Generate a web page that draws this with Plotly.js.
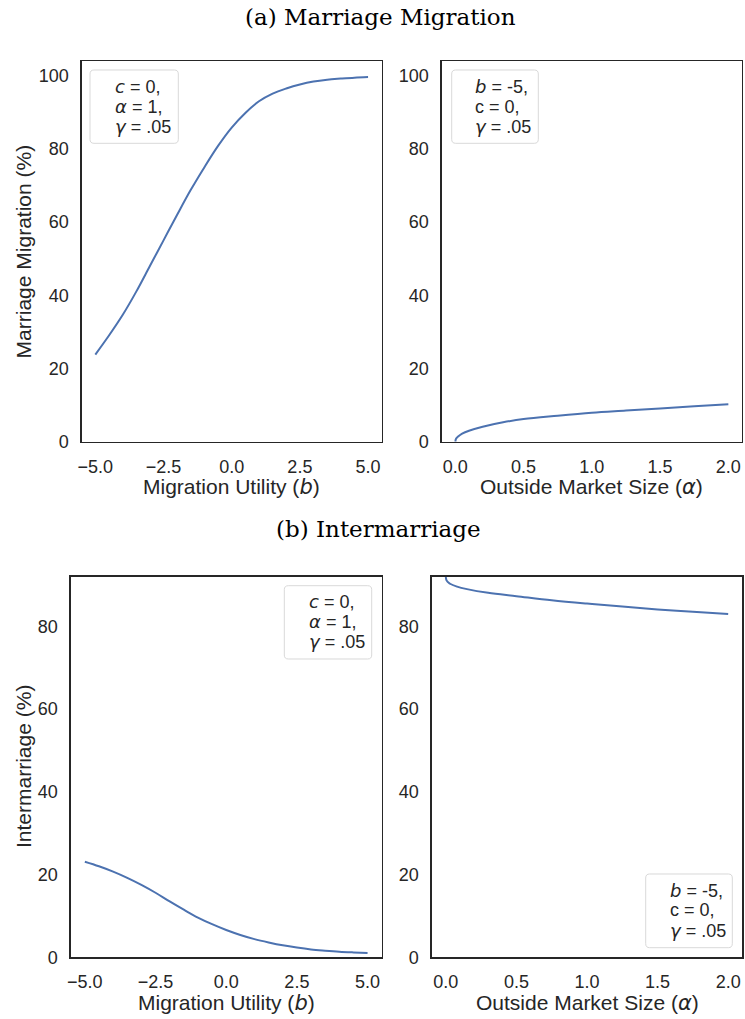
<!DOCTYPE html>
<html>
<head>
<meta charset="utf-8">
<script src="https://cdn.plot.ly/plotly-3.0.1.min.js"></script>
<style>html,body{margin:0;padding:0;background:#fff;}#chart{width:745px;height:1019px;}</style>
</head>
<body>
<div id="chart"></div>
<script>
// ---- data ----
const utilityB = [-5, -4.5, -4, -3.5, -3, -2.5, -2, -1.5, -1, -0.5, 0, 0.5, 1, 1.5, 2, 2.5, 3, 3.5, 4, 4.5, 5];
const migrationVsB = [23.8, 29.0, 34.6, 41.0, 48.0, 55.0, 62.0, 68.8, 75.0, 80.8, 85.8, 89.8, 93.0, 95.1, 96.5, 97.6, 98.4, 98.9, 99.2, 99.45, 99.6];
const intermarriageVsB = [23.1, 22.0, 20.7, 19.2, 17.5, 15.6, 13.5, 11.5, 9.6, 8.0, 6.6, 5.4, 4.4, 3.6, 2.9, 2.35, 1.9, 1.6, 1.35, 1.18, 1.05];

const alphaMig = [0, 0.005, 0.02, 0.05, 0.1, 0.2, 0.35, 0.5, 0.75, 1.0, 1.25, 1.5, 1.75, 2.0];
const migrationVsAlpha = [0, 0.8, 1.4, 2.2, 3.0, 4.1, 5.3, 6.2, 7.1, 7.9, 8.5, 9.1, 9.7, 10.2];

const alphaInter = [0, 0.005, 0.03, 0.08, 0.15, 0.3, 0.5, 0.75, 1.0, 1.25, 1.5, 1.75, 2.0];
const intermarriageVsAlpha = [93.5, 91.1, 90.3, 89.6, 89.0, 88.1, 87.3, 86.3, 85.5, 84.8, 84.1, 83.5, 83.0];

const bTickVals = [-5, -2.5, 0, 2.5, 5];
const bTickText = ["\u22125.0", "\u22122.5", "0.0", "2.5", "5.0"];
const alphaTickVals = [0, 0.5, 1.0, 1.5, 2.0];
const alphaTickText = ["0.0", "0.5", "1.0", "1.5", "2.0"];
const topYTicks = [0, 20, 40, 60, 80, 100];
const bottomYTicks = [0, 20, 40, 60, 80];

const M = s => "<i><span style='font-family:DejaVu Sans'>" + s + "</span></i>";
const panelTitles = ["(a) Marriage Migration", "(b) Intermarriage"];
const xTitles = ["Migration Utility (" + M("b") + ")", "Outside Market Size (" + M("\u03b1") + ")"];
const yTitles = ["Marriage Migration (%)", "Intermarriage (%)"];
const legendB = [M("c") + " = 0,", M("\u03b1") + " = 1,", M("\u03b3") + " = .05"];
const legendAlpha = [M("b") + " = -5,", "c = 0,", M("\u03b3") + " = .05"];

// ---- layout helpers ----
const W = 745, H = 1019;
const fx = p => p / W;
const fy = p => 1 - p / H;
const INK = '#262626';
const SANS = 'Liberation Sans, Arial, sans-serif';
const BLUE = '#4C72B0';

function axisBase(extra) {
  return Object.assign({
    showline: true, mirror: true, linecolor: INK, linewidth: 1.25,
    ticks: '', showgrid: false, zeroline: false,
    tickfont: {family: SANS, size: 18, color: INK},
    ticklabelstandoff: 8, fixedrange: true
  }, extra);
}

const lineStyle = {color: BLUE, width: 2, shape: 'spline', smoothing: 1};
const data = [
  {x: utilityB, y: migrationVsB, xaxis: 'x', yaxis: 'y', mode: 'lines', line: lineStyle, showlegend: false, hoverinfo: 'skip'},
  {x: alphaMig, y: migrationVsAlpha, xaxis: 'x2', yaxis: 'y2', mode: 'lines', line: lineStyle, showlegend: false, hoverinfo: 'skip'},
  {x: utilityB, y: intermarriageVsB, xaxis: 'x3', yaxis: 'y3', mode: 'lines', line: lineStyle, showlegend: false, hoverinfo: 'skip'},
  {x: alphaInter, y: intermarriageVsAlpha, xaxis: 'x4', yaxis: 'y4', mode: 'lines', line: lineStyle, showlegend: false, hoverinfo: 'skip'}
];

const topDom = [fy(441.7), fy(61)];
const botDom = [fy(957.3), fy(576.7)];

const layout = {
  width: W, height: H,
  margin: {l: 0, r: 0, t: 0, b: 0},
  paper_bgcolor: '#fff', plot_bgcolor: '#fff',
  showlegend: false,
  xaxis: axisBase({domain: [fx(81.7), fx(381.7)], range: [-5.5, 5.5], anchor: 'y', tickvals: bTickVals, ticktext: bTickText}),
  yaxis: axisBase({domain: topDom, range: [0, 104], anchor: 'x', tickvals: topYTicks}),
  xaxis2: axisBase({domain: [fx(441.7), fx(742)], range: [-0.1, 2.1], anchor: 'y2', tickvals: alphaTickVals, ticktext: alphaTickText}),
  yaxis2: axisBase({domain: topDom, range: [0, 104], anchor: 'x2', tickvals: topYTicks}),
  xaxis3: axisBase({domain: [fx(70.7), fx(381.7)], range: [-5.5, 5.5], anchor: 'y3', tickvals: bTickVals, ticktext: bTickText}),
  yaxis3: axisBase({domain: botDom, range: [0, 92], anchor: 'x3', tickvals: bottomYTicks}),
  xaxis4: axisBase({domain: [fx(431.7), fx(742.3)], range: [-0.1, 2.1], anchor: 'y4', tickvals: alphaTickVals, ticktext: alphaTickText}),
  yaxis4: axisBase({domain: botDom, range: [0, 92], anchor: 'x4', tickvals: bottomYTicks}),
  shapes: [],
  annotations: []
};

function ann(text, xp, yp, opts) {
  layout.annotations.push(Object.assign({
    text: text, xref: 'paper', yref: 'paper', x: fx(xp), y: fy(yp),
    xanchor: 'center', yanchor: 'middle', showarrow: false,
    font: {family: SANS, size: 21, color: INK}
  }, opts || {}));
}

// panel titles
const SERIF = 'DejaVu Serif, Liberation Serif, serif';
ann(panelTitles[0], 380, 17, {font: {family: SERIF, size: 23, color: '#000'}});
ann(panelTitles[1], 378, 529, {font: {family: SERIF, size: 23, color: '#000'}});

// axis titles
ann(xTitles[0], 231.7, 486.5);
ann(xTitles[1], 591.9, 486.5);
ann(xTitles[0], 226.2, 1003);
ann(xTitles[1], 587, 1003);
ann(yTitles[0], 23, 251.4, {textangle: -90});
ann(yTitles[1], 23, 767, {textangle: -90});

// legend boxes (rounded corners, radius in px)
function roundedPath(x0, x1, y0, y1, r) {
  const X = v => fx(v).toFixed(5), Y = v => fy(v).toFixed(5);
  return 'M' + X(x0 + r) + ',' + Y(y0) +
    ' L' + X(x1 - r) + ',' + Y(y0) + ' Q' + X(x1) + ',' + Y(y0) + ' ' + X(x1) + ',' + Y(y0 + r) +
    ' L' + X(x1) + ',' + Y(y1 - r) + ' Q' + X(x1) + ',' + Y(y1) + ' ' + X(x1 - r) + ',' + Y(y1) +
    ' L' + X(x0 + r) + ',' + Y(y1) + ' Q' + X(x0) + ',' + Y(y1) + ' ' + X(x0) + ',' + Y(y1 - r) +
    ' L' + X(x0) + ',' + Y(y0 + r) + ' Q' + X(x0) + ',' + Y(y0) + ' ' + X(x0 + r) + ',' + Y(y0) + ' Z';
}
function legendBox(x0, x1, y0, y1, textLeft, centers, lines) {
  layout.shapes.push({
    type: 'path', xref: 'paper', yref: 'paper', path: roundedPath(x0, x1, y0, y1, 4),
    line: {color: '#d9d9d9', width: 1}, fillcolor: 'rgba(255,255,255,0.8)', layer: 'above'
  });
  lines.forEach((t, i) => ann(t, textLeft, centers[i], {xanchor: 'left', font: {family: SANS, size: 18, color: INK}}));
}
legendBox(90, 178.3, 70, 143.3, 113.3, [86.7, 106.7, 126.7], legendB);
legendBox(451.7, 538.3, 70, 143.3, 473.3, [86.7, 106.7, 126.7], legendAlpha);
legendBox(284.3, 371.7, 585.7, 659, 307.3, [601.7, 621.7, 641], legendB);
legendBox(645.7, 732.3, 874, 947.7, 667.7, [890, 910, 930], legendAlpha);

Plotly.newPlot('chart', data, layout, {displayModeBar: false, staticPlot: true});
</script>
</body>
</html>
